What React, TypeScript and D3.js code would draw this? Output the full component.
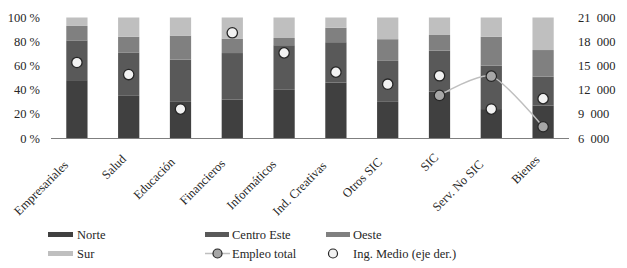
import React from "react";
import * as d3 from "d3";

const categories = ["Empresariales", "Salud", "Educación", "Financieros", "Informáticos", "Ind. Creativas", "Otros SIC", "SIC", "Serv. No SIC", "Bienes"];
const norte = [48, 35, 30, 32, 40, 46, 30, 38.5, 24, 27];
const centroEste = [33, 36, 35, 38.5, 37, 33.5, 34, 34, 36, 24];
const oeste = [12, 13, 20, 12, 6, 12, 18, 13, 24, 22];
const sur = [7, 16, 15, 17.5, 17, 8.5, 18, 14.5, 16, 27];
const ingMedio = [15400, 13900, 9600, 19100, 16600, 14200, 12700, 13750, 9600, 10900];
const empleoCats = ["SIC", "Serv. No SIC", "Bienes"];
const empleoTotal = [11300, 13700, 7400];
const leftTicks = [0, 20, 40, 60, 80, 100];
const rightTicks = [6000, 9000, 12000, 15000, 18000, 21000];

const seriesNames = ["Norte", "Centro Este", "Oeste", "Sur"];
const seriesColors = ["#404040", "#595959", "#808080", "#bfbfbf"];

const FONT = "Liberation Serif, DejaVu Serif, serif";
const ts = { fontFamily: FONT };

export default function App() {
  const W = 627, H = 268;
  const x = d3.scaleBand<string>().domain(categories).range([51, 569]).paddingInner(0.59).paddingOuter(0.295);
  const yL = d3.scaleLinear().domain([0, 100]).range([138, 17.5]);
  const yR = d3.scaleLinear().domain([6000, 21000]).range([138, 17.5]);
  const rows = categories.map((c, i) => ({ cat: c, Norte: norte[i], "Centro Este": centroEste[i], Oeste: oeste[i], Sur: sur[i] }));
  const stack = d3.stack<any>().keys(seriesNames)(rows);
  const cx = (c: string) => (x(c) as number) + x.bandwidth() / 2;
  const line = d3.line<number>().x((_, i) => cx(empleoCats[i])).y((d) => yR(d)).curve(d3.curveCardinal.tension(0.3));
  const fmtR = (t: number) => { const s = String(t); return s.slice(0, s.length - 3) + "\u00a0 " + s.slice(-3); };
  const labelPos = (c: string) => {
    const L = c.length * 5.4;
    return [cx(c) + 2 - 0.14 * L, 156 + 0.14 * L];
  };

  return (
    <svg width={W} height={H} style={{ position: "absolute", left: 0, top: 0, background: "#fff" }}>
      <rect width={W} height={H} fill="#fff" />
      {stack.map((s, si) => (
        <g key={si} fill={seriesColors[si]}>
          {s.map((d, i) => (
            <rect key={i} x={x(categories[i])} width={x.bandwidth()} y={yL(d[1])} height={yL(d[0]) - yL(d[1])} />
          ))}
        </g>
      ))}
      <line x1={51} x2={569} y1={138.5} y2={138.5} stroke="#7f7f7f" strokeWidth={1.2} />
      {leftTicks.map((t) => (
        <text key={t} style={ts} x={40} y={yL(t) + 4.5} textAnchor="end" fontSize={12.5} fill="#262626">{t} %</text>
      ))}
      {rightTicks.map((t) => (
        <text key={t} style={ts} x={578} y={yR(t) + 4.5} textAnchor="start" fontSize={12.5} fill="#262626">{fmtR(t)}</text>
      ))}
      {categories.map((c) => {
        const [lx, ly] = labelPos(c);
        return (
          <text key={c} style={ts} transform={`translate(${lx},${ly}) rotate(-45)`} textAnchor="end" fontSize={12.5} fill="#262626">{c}</text>
        );
      })}
      <path d={line(empleoTotal) || ""} fill="none" stroke="#bfbfbf" strokeWidth={1.5} />
      {empleoTotal.map((v, i) => (
        <circle key={i} cx={cx(empleoCats[i])} cy={yR(v)} r={5.2} fill="#a6a6a6" stroke="#262626" strokeWidth={1.2} />
      ))}
      {ingMedio.map((v, i) => (
        <circle key={i} cx={cx(categories[i])} cy={yR(v)} r={5.2} fill="#f2f2f2" stroke="#262626" strokeWidth={1.3} />
      ))}
      <g fontSize={12.5} fill="#262626">
        <rect x={48} y={232} width={25} height={5} fill={seriesColors[0]} />
        <text style={ts} x={77} y={239}>Norte</text>
        <rect x={205} y={232} width={24} height={5} fill={seriesColors[1]} />
        <text style={ts} x={232} y={239}>Centro Este</text>
        <rect x={326} y={232} width={24} height={5} fill={seriesColors[2]} />
        <text style={ts} x={353} y={239}>Oeste</text>
        <rect x={48} y={251} width={25} height={5} fill={seriesColors[3]} />
        <text style={ts} x={77} y={258}>Sur</text>
        <line x1={205} x2={230} y1={253.5} y2={253.5} stroke="#bfbfbf" strokeWidth={1.5} />
        <circle cx={217.5} cy={253.5} r={4.5} fill="#a6a6a6" stroke="#262626" strokeWidth={1.2} />
        <text style={ts} x={232} y={258}>Empleo total</text>
        <circle cx={333} cy={253.5} r={4.5} fill="#f2f2f2" stroke="#262626" strokeWidth={1.2} />
        <text style={ts} x={353} y={258}>Ing. Medio (eje der.)</text>
      </g>
    </svg>
  );
}
